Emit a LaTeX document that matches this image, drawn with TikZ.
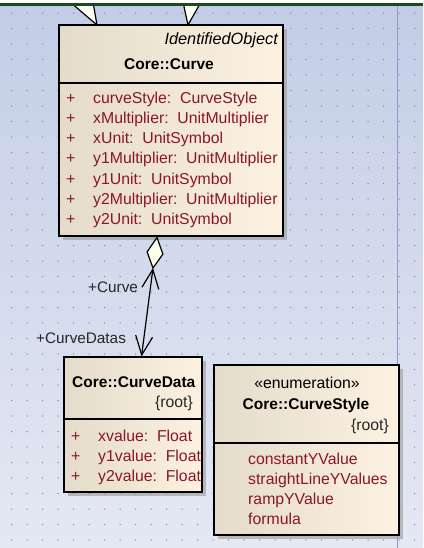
\documentclass[tikz,border=0pt]{standalone}
\usepackage{fontspec}
\setmainfont{Liberation Sans}
\usetikzlibrary{arrows.meta,shadows}
\definecolor{bgtop}{RGB}{194,205,230}
\definecolor{bgbot}{RGB}{228,232,243}
\definecolor{dotc}{RGB}{130,138,180}
\definecolor{boxl}{RGB}{228,219,202}
\definecolor{boxr}{RGB}{253,242,226}
\definecolor{attr}{RGB}{140,22,35}
\definecolor{pageline}{RGB}{150,150,200}
\definecolor{topgreen}{RGB}{30,72,30}
\tikzset{
  umlbox/.style={draw=black, line width=1.3pt, left color=boxl, right color=boxr,
    inner sep=0pt, outer sep=0pt, anchor=north west,
    drop shadow={shadow xshift=4pt, shadow yshift=-4pt, fill=black!40, opacity=.6}},
  txt/.style={inner sep=0pt, font=\fontsize{15.8}{20}\selectfont},
  attrtxt/.style={txt, text=attr, anchor=base west},
  nametxt/.style={txt, font=\fontsize{15.5}{20}\selectfont\bfseries},
  rolelbl/.style={txt, font=\fontsize{15.3}{20}\selectfont, anchor=base west, text=black!85},
  assoc/.style={line width=1.2pt, {Straight Barb[length=19pt,width=17pt,line width=1.2pt]}-{Straight Barb[length=19pt,width=17pt,line width=1.2pt]}},
  gentri/.style={fill=white!96!yellow, draw=black, line width=1.2pt, line join=miter}
}
\begin{document}
\begin{tikzpicture}[x=1pt,y=-1pt]
\useasboundingbox (0,0) rectangle (423,548);
% background
\shade[top color=bgtop, bottom color=bgbot] (0,0) rectangle (423,548);
\foreach \i in {0,...,27}{
  \foreach \j in {0,...,35}{
    \fill[dotc] (11.7+15.5*\i, 13+15.5*\j) circle (0.75);
  }
}
\draw[pageline, line width=0.8pt] (397,0) -- (397,548);

% generalization triangles (cut off at the top)
\begin{scope}
\clip (0,6) rectangle (423,30);
\draw[gentri] (70,2) -- (97,25) -- (93,2);
\draw[gentri] (183,2) -- (188,25) -- (201,2);
\end{scope}

% Core::Curve
\node[umlbox, minimum width=224pt, minimum height=211pt] (curve) at (59,25) {};
\draw[line width=1.3pt] (59,83) -- (283,83);
\node[txt, anchor=base east, font=\fontsize{16.3}{20}\selectfont\itshape] (curvesuper) at (278,45) {IdentifiedObject};
\node[nametxt, anchor=base] (curvename) at (169,70) {Core::Curve};
\foreach \n/\t [count=\k from 0] in {a1/{curveStyle:\ \ CurveStyle},a2/{xMultiplier:\ \ UnitMultiplier},a3/{xUnit:\ \ UnitSymbol},a4/{y1Multiplier:\ \ UnitMultiplier},a5/{y1Unit:\ \ UnitSymbol},a6/{y2Multiplier:\ \ UnitMultiplier},a7/{y2Unit:\ \ UnitSymbol}}{
  \node[attrtxt] (curve-p\n) at (66,104+20*\k) {+};
  \node[attrtxt] (curve-\n) at (93,104+20*\k) {\t};
}

% Core::CurveData
\node[umlbox, minimum width=138pt, minimum height=135pt] (cdata) at (64,357) {};
\draw[line width=1.3pt] (64,419) -- (202,419);
\node[nametxt, anchor=base west] (cdataname) at (72,387) {Core::CurveData};
\node[txt, anchor=base east, text=black!85] (cdataroot) at (193,407) {\{root\}};
\begin{scope}
\clip (65,420) rectangle (201.3,491);
\foreach \n/\t [count=\k from 0] in {b1/{xvalue:\ \ Float},b2/{y1value:\ \ Float},b3/{y2value:\ \ Float}}{
  \node[attrtxt] (cdata-p\n) at (71,441+20*\k) {+};
  \node[attrtxt] (cdata-\n) at (98,441+20*\k) {\t};
}
\end{scope}

% Core::CurveStyle
\node[umlbox, minimum width=185pt, minimum height=170pt] (cstyle) at (214,365) {};
\draw[line width=1.3pt] (214,443) -- (399,443);
\node[txt, anchor=base] (cstylester) at (307,388.5) {«enumeration»};
\node[nametxt, anchor=base] (cstylename) at (306,409) {Core::CurveStyle};
\node[txt, anchor=base east, text=black!85] (cstyleroot) at (389,430) {\{root\}};
\foreach \n/\t [count=\k from 0] in {c1/constantYValue,c2/straightLineYValues,c3/rampYValue,c4/formula}{
  \node[attrtxt] (cstyle-\n) at (248,464+20*\k) {\t};
}

% association with aggregation diamond
\coordinate (dtop) at (157,237.5);
\coordinate (dleft) at (147.1,251.9);
\coordinate (dright) at (162.9,254.1);
\coordinate (dbot) at (153,268);
\coordinate (cdtop) at (141.5,356.5);
\draw[assoc] (dbot) -- (cdtop);
\draw[fill=white!92!yellow, line width=1.2pt, line join=miter] (dtop) -- (dright) -- (dbot) -- (dleft) -- cycle;
\node[rolelbl] (lblcurve) at (88,292) {+Curve};
\node[rolelbl] (lblcdatas) at (36,343) {+CurveDatas};

% top border
\fill[white] (0,0) rectangle (423,3);
\fill[topgreen] (0,3) rectangle (423,6.3);
\end{tikzpicture}
\end{document}
